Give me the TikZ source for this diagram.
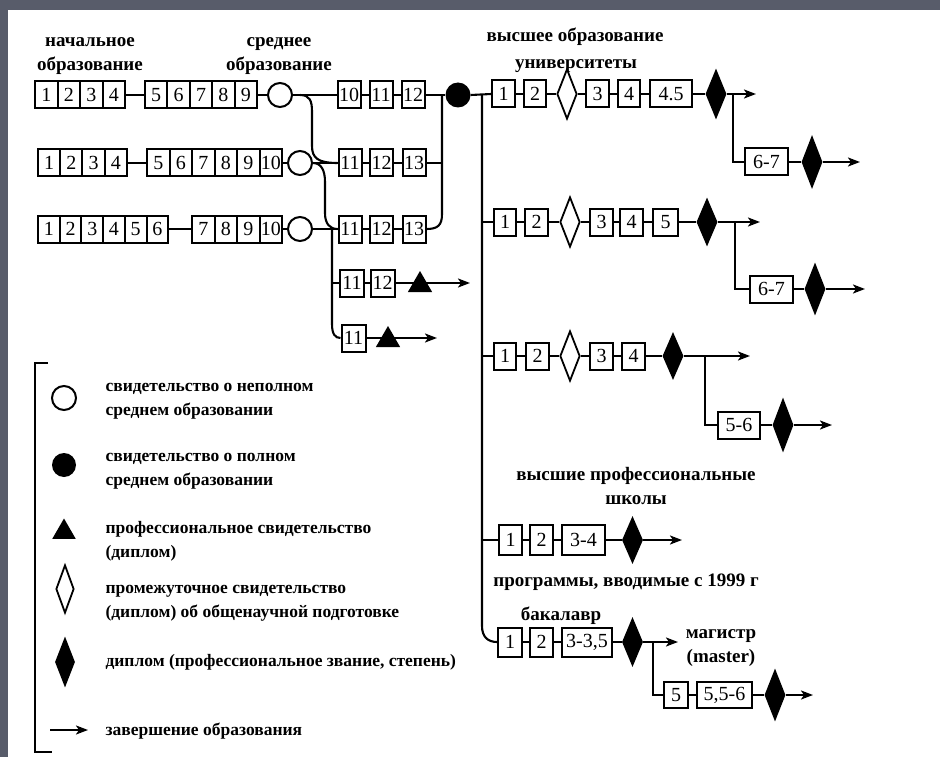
\documentclass[tikz,border=0pt]{standalone}
\usepackage{fontspec}
\setmainfont{Liberation Serif}
\usetikzlibrary{shapes.geometric,arrows.meta}
\pgfdeclarelayer{frame}
\pgfdeclarelayer{bg}
\pgfsetlayers{frame,bg,main}
\definecolor{framegray}{RGB}{88,92,106}
\begin{document}
\begin{tikzpicture}[x=1pt,y=-1pt,
  ln/.style={line width=2.1pt},
  bx/.style={draw,fill=white,line width=2pt,minimum width=22.5pt,minimum height=27pt,inner sep=0pt,font=\fontsize{20}{20}\selectfont},
  oc/.style={circle,draw,fill=white,line width=2pt,minimum size=24pt,inner sep=0pt},
  fcirc/.style={circle,fill=black,minimum size=25pt,inner sep=0pt},
  od/.style={diamond,draw,fill=white,line width=1.8pt,minimum width=20pt,minimum height=50pt,inner sep=0pt},
  fd/.style={diamond,fill=black,minimum width=21pt,minimum height=51pt,inner sep=0pt},
  tri/.style={regular polygon,regular polygon sides=3,fill=black,minimum size=28pt,inner sep=0pt},
  arr/.style={-{Stealth[length=12pt,width=9pt,inset=3pt]}},
  lbl/.style={align=center,font=\bfseries\fontsize{19}{24}\selectfont},
  leg/.style={anchor=west,align=left,font=\bfseries\fontsize{17.5}{24}\selectfont}
]
\begin{pgfonlayer}{frame}
\fill[framegray] (0,0) rectangle (940,757);
\fill[white] (8,10) rectangle (940,757);
\end{pgfonlayer}
\useasboundingbox (0,0) rectangle (940,757);

% ---------- headers ----------
\node[lbl] (hNach) at (90,56) {начальное\\образование};
\node[lbl] (hSred) at (279,56) {среднее\\образование};
\node[lbl] (hVys) at (575,37) {высшее образование};
\node[lbl] (hUni) at (576,66) {университеты};
\node[lbl] (hProf) at (636,486) {высшие профессиональные\\школы};
\node[lbl] (hProg) at (626,582) {программы, вводимые с 1999 г};
\node[lbl] (hBak) at (561,616) {бакалавр};
\node[lbl] (hMag) at (721,648) {магистр\\(master)};

% ---------- row 1 ----------
\foreach \t [count=\i] in {1,2,3,4}
  \node[bx] (r1a\i) at ({35+22.5*(\i-0.5)},95) {\t};
\foreach \t [count=\i] in {5,6,7,8,9}
  \node[bx] (r1b\i) at ({145+22.4*(\i-0.5)},95) {\t};
\node[oc] (c1) at (280,95) {};
\node[bx,minimum width=23pt] (r1c1) at (349,95) {10};
\node[bx,minimum width=23pt] (r1c2) at (381,95) {11};
\node[bx,minimum width=23pt] (r1c3) at (413,95) {12};
\node[fcirc] (fc) at (458,95) {};

% ---------- row 2 ----------
\foreach \t [count=\i] in {1,2,3,4}
  \node[bx] (r2a\i) at ({38+22.25*(\i-0.5)},163) {\t};
\foreach \t [count=\i] in {5,6,7,8,9,10}
  \node[bx] (r2b\i) at ({147+22.5*(\i-0.5)},163) {\t};
\node[oc] (c2) at (300,163) {};
\node[bx,minimum width=23pt] (r2c1) at (350,163) {11};
\node[bx,minimum width=23pt] (r2c2) at (381.5,163) {12};
\node[bx,minimum width=23pt] (r2c3) at (414,163) {13};

% ---------- row 3 ----------
\foreach \t [count=\i] in {1,2,3,4,5,6}
  \node[bx,minimum width=21.7pt] (r3a\i) at ({38+21.7*(\i-0.5)},229) {\t};
\foreach \t [count=\i] in {7,8,9,10}
  \node[bx] (r3b\i) at ({192+22.5*(\i-0.5)},229) {\t};
\node[oc] (c3) at (300,229) {};
\node[bx,minimum width=23pt] (r3c1) at (350,229) {11};
\node[bx,minimum width=23pt] (r3c2) at (381.5,229) {12};
\node[bx,minimum width=23pt] (r3c3) at (414,229) {13};

% ---------- rows 4,5 ----------
\node[bx,minimum width=24pt] (r4a) at (352,283) {11};
\node[bx,minimum width=24pt] (r4b) at (382.5,283) {12};
\node[tri] (t4) at (420,285) {};
\coordinate (e4) at (470,283);
\node[bx,minimum width=24pt] (r5a) at (353.5,338) {11};
\node[tri] (t5) at (388,340) {};
\coordinate (e5) at (437,338);

% ---------- university row 1 ----------
\node[bx] (u1b1) at (503.5,94) {1};
\node[bx] (u1b2) at (535,94) {2};
\node[od] (u1od) at (567,94) {};
\node[bx] (u1b3) at (597.5,94) {3};
\node[bx] (u1b4) at (629,94) {4};
\node[bx,minimum width=42pt] (u1b5) at (671,94) {4.5};
\node[fd] (u1fd) at (716,94) {};
\coordinate (u1e) at (756,94);
\coordinate (u1k) at (733,94);
\node[bx,minimum width=43pt] (u1c) at (766.5,162) {6-7};
\node[fd,minimum height=54pt] (u1fd2) at (812,162) {};
\coordinate (u1e2) at (860,162);

% ---------- university row 2 ----------
\node[bx] (u2b1) at (505,222) {1};
\node[bx] (u2b2) at (536.5,222) {2};
\node[od] (u2od) at (570,222) {};
\node[bx] (u2b3) at (601.5,222) {3};
\node[bx] (u2b4) at (631.5,222) {4};
\node[bx,minimum width=25pt] (u2b5) at (665.5,222) {5};
\node[fd,minimum height=49pt] (u2fd) at (707,222) {};
\coordinate (u2e) at (760,222);
\coordinate (u2k) at (735,222);
\node[bx,minimum width=43pt] (u2c) at (771.5,289) {6-7};
\node[fd,minimum height=53pt] (u2fd2) at (815,289) {};
\coordinate (u2e2) at (865,289);

% ---------- university row 3 ----------
\node[bx] (u3b1) at (505,356) {1};
\node[bx] (u3b2) at (537.5,356) {2};
\node[od] (u3od) at (570,356) {};
\node[bx] (u3b3) at (601.5,356) {3};
\node[bx] (u3b4) at (633.5,356) {4};
\node[fd,minimum height=48pt] (u3fd) at (673,356) {};
\coordinate (u3e) at (750,356);
\coordinate (u3k) at (705,356);
\node[bx,minimum width=42pt] (u3c) at (739,425) {5-6};
\node[fd,minimum height=55pt] (u3fd2) at (783,425) {};
\coordinate (u3e2) at (832,425);

% ---------- professional schools ----------
\node[bx,minimum width=23pt,minimum height=30pt] (d1) at (510.5,540) {1};
\node[bx,minimum width=23pt,minimum height=30pt] (d2) at (541.5,540) {2};
\node[bx,minimum width=43pt,minimum height=30pt] (d3) at (583.5,540) {3-4};
\node[fd,minimum height=48pt] (dfd) at (632.5,540) {};
\coordinate (de) at (682,540);

% ---------- bachelor / master ----------
\node[bx,minimum width=24pt,minimum height=29pt] (e1) at (510,642) {1};
\node[bx,minimum width=23pt,minimum height=29pt] (e2) at (541.5,642) {2};
\node[bx,minimum width=50pt,minimum height=29pt] (e3) at (587,642) {3-3,5};
\node[fd,minimum height=50pt] (efd) at (632.5,642) {};
\coordinate (ee) at (678,642);
\coordinate (ek) at (653,642);
\node[bx,minimum width=24pt,minimum height=26pt] (m1) at (676,695) {5};
\node[bx,minimum width=55pt,minimum height=26pt] (m2) at (724.5,695) {5,5-6};
\node[fd,minimum height=53pt] (mfd) at (775,695) {};
\coordinate (me) at (813,695);

% ---------- junction coordinates ----------
\coordinate (j1) at (300,95);
\coordinate (j1a) at (312,112);
\coordinate (j1b) at (312,146);
\coordinate (j2a) at (325,182);
\coordinate (j2b) at (325,213);
\coordinate (j3) at (332,229);
\coordinate (j3b) at (332,324);
\coordinate (j4) at (332,283);
\coordinate (k1) at (442,95);
\coordinate (k2) at (442,163);
\coordinate (k3) at (442,214);
\coordinate (v1) at (482,95);
\coordinate (v2) at (482,222);
\coordinate (v3) at (482,356);
\coordinate (v4) at (482,540);
\coordinate (v5) at (482,626);

\begin{pgfonlayer}{bg}
\begin{scope}[ln]
% row 1
\draw (r1a4.east) -- (r1b1.west);
\draw (r1b5.east) -- (c1.west);
\draw (c1.east) -- (r1c1.west);
\draw (r1c1.east) -- (r1c2.west);
\draw (r1c2.east) -- (r1c3.west);
\draw (r1c3.east) -- (fc.west);
\draw (fc.east) -- (u1b1.west);
% row 2
\draw (r2a4.east) -- (r2b1.west);
\draw (r2b6.east) -- (c2.west);
\draw (c2.east) -- (r2c1.west);
\draw (r2c1.east) -- (r2c2.west);
\draw (r2c2.east) -- (r2c3.west);
\draw (r2c3.east) -- (k2);
% row 3
\draw (r3a6.east) -- (r3b1.west);
\draw (r3b4.east) -- (c3.west);
\draw (c3.east) -- (r3c1.west);
\draw (r3c1.east) -- (r3c2.west);
\draw (r3c2.east) -- (r3c3.west);
% curves between rows
\draw (j1) .. controls (310,95) and (312,101) .. (j1a) -- (j1b) .. controls (312,158) and (318,163) .. (r2c1.west);
\draw (c2.east) .. controls (321,163) and (325,170) .. (j2a) -- (j2b) .. controls (325,224) and (330,229) .. (r3c1.west);
% collector
\draw (k1) -- (k3) .. controls (442,225) and (438,229) .. (r3c3.east);
% rows 4,5
\draw (j3) -- (j3b) .. controls (332,334) and (335,338) .. (r5a.west);
\draw (j4) -- (r4a.west);
\draw (r4a.east) -- (r4b.west);
\draw[arr] (r4b.east) -- (e4);
\draw[arr] (r5a.east) -- (e5);
% main vertical
\draw (v1) -- (v5) .. controls (482,637) and (488,642) .. (e1.west);
\draw (v2) -- (u2b1.west);
\draw (v3) -- (u3b1.west);
\draw (v4) -- (d1.west);
% university row 1
\draw (u1b1.east) -- (u1b2.west);
\draw (u1b2.east) -- (u1od.west);
\draw (u1od.east) -- (u1b3.west);
\draw (u1b3.east) -- (u1b4.west);
\draw (u1b4.east) -- (u1b5.west);
\draw (u1b5.east) -- (u1fd.west);
\draw[arr] (u1fd.east) -- (u1e);
\draw (u1k) |- (u1c.west);
\draw (u1c.east) -- (u1fd2.west);
\draw[arr] (u1fd2.east) -- (u1e2);
% university row 2
\draw (u2b1.east) -- (u2b2.west);
\draw (u2b2.east) -- (u2od.west);
\draw (u2od.east) -- (u2b3.west);
\draw (u2b3.east) -- (u2b4.west);
\draw (u2b4.east) -- (u2b5.west);
\draw (u2b5.east) -- (u2fd.west);
\draw[arr] (u2fd.east) -- (u2e);
\draw (u2k) |- (u2c.west);
\draw (u2c.east) -- (u2fd2.west);
\draw[arr] (u2fd2.east) -- (u2e2);
% university row 3
\draw (u3b1.east) -- (u3b2.west);
\draw (u3b2.east) -- (u3od.west);
\draw (u3od.east) -- (u3b3.west);
\draw (u3b3.east) -- (u3b4.west);
\draw (u3b4.east) -- (u3fd.west);
\draw[arr] (u3fd.east) -- (u3e);
\draw (u3k) |- (u3c.west);
\draw (u3c.east) -- (u3fd2.west);
\draw[arr] (u3fd2.east) -- (u3e2);
% professional schools
\draw (d1.east) -- (d2.west);
\draw (d2.east) -- (d3.west);
\draw (d3.east) -- (dfd.west);
\draw[arr] (dfd.east) -- (de);
% bachelor / master
\draw (e1.east) -- (e2.west);
\draw (e2.east) -- (e3.west);
\draw (e3.east) -- (efd.west);
\draw[arr] (efd.east) -- (ee);
\draw (ek) |- (m1.west);
\draw (m1.east) -- (m2.west);
\draw (m2.east) -- (mfd.west);
\draw[arr] (mfd.east) -- (me);
\end{scope}
\end{pgfonlayer}

% ---------- legend ----------
\draw[ln] (48,363) -- (35,363) -- (35,752) -- (52,752);
\node[oc] (lg1) at (64,398) {};
\node[leg] (lt1) at (102,401) {свидетельство о неполном\\среднем образовании};
\node[fcirc,minimum size=24pt] (lg2) at (64,465) {};
\node[leg] (lt2) at (102,471) {свидетельство о полном\\среднем образовании};
\node[tri,minimum size=27pt] (lg3) at (64,532) {};
\node[leg] (lt3) at (102,541) {профессиональное свидетельство\\(диплом)};
\node[od,minimum width=18pt,minimum height=48pt] (lg4) at (65,589) {};
\node[leg] (lt4) at (102,603) {промежуточное свидетельство\\(диплом) об общенаучной подготовке};
\node[fd,minimum width=20pt,minimum height=51pt] (lg5) at (65,662) {};
\node[leg] (lt5) at (102,662) {диплом (профессиональное звание, степень)};
\coordinate (la) at (50,730);
\coordinate (lb) at (88,730);
\draw[ln,arr] (la) -- (lb);
\node[leg] (lt6) at (102,731) {завершение образования};
\end{tikzpicture}
\end{document}
